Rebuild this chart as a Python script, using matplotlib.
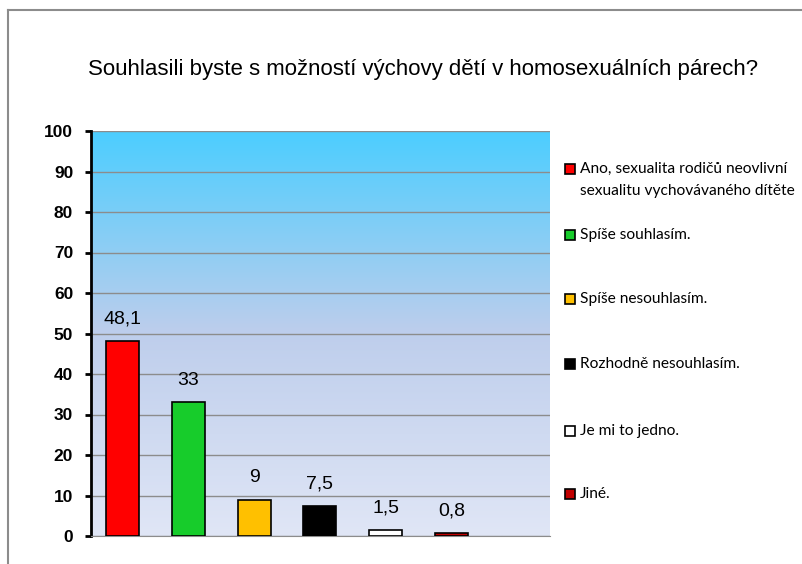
import matplotlib.pyplot as plt
import numpy as np
from matplotlib.patches import Rectangle
from matplotlib.lines import Line2D

labels = [
    "Ano, sexualita rodičů neovlivní\nsexualitu vychovávaného dítěte",
    "Spíše souhlasím.",
    "Spíše nesouhlasím.",
    "Rozhodně nesouhlasím.",
    "Je mi to jedno.",
    "Jiné.",
]
values = [48.1, 33, 9, 7.5, 1.5, 0.8]
value_text = ["48,1", "33", "9", "7,5", "1,5", "0,8"]
colors = ["#ff0000", "#17cc2b", "#ffc000", "#000000", "#ffffff", "#c00000"]
yticks = [0, 10, 20, 30, 40, 50, 60, 70, 80, 90, 100]

W, H = 803, 564
fig = plt.figure(figsize=(W / 100, H / 100), dpi=100)

# outer frame (top + left visible)
fig.add_artist(Line2D([8 / W, 8 / W], [0, 1 - 10 / H], color="#8c8c8c", lw=1.5))
fig.add_artist(Line2D([8 / W, 1], [1 - 10 / H, 1 - 10 / H], color="#8c8c8c", lw=1.5))

ax = fig.add_axes([91 / W, 1 - 536 / H, (550 - 91) / W, (536 - 131) / H])

# gradient background
grad = np.linspace(0, 1, 256)
top = np.array([76, 205, 255]) / 255
mid = np.array([190, 206, 236]) / 255
bot = np.array([224, 230, 246]) / 255
cols = np.zeros((256, 1, 3))
for i, g in enumerate(grad):
    if g < 0.5:
        cols[i, 0] = top + (mid - top) * (g / 0.5)
    else:
        cols[i, 0] = mid + (bot - mid) * ((g - 0.5) / 0.5)
ax.imshow(cols, extent=[0, 1, 0, 1], transform=ax.transAxes, aspect="auto", zorder=0)

x = np.arange(len(values))
ax.bar(x, values, width=0.5, color=colors, edgecolor="black", linewidth=1.2, zorder=3)
for xi, v, t in zip(x, values, value_text):
    ax.text(xi, v + 5.4, t, ha="center", va="center", fontsize=14,
            family="Liberation Sans", zorder=4)

ax.set_xlim(-0.48, 6.5)
ax.set_ylim(0, 100)
ax.set_yticks(yticks)
ax.set_yticklabels([str(v) for v in yticks], fontweight="bold", fontsize=12.5,
                   family="Liberation Sans")
ax.set_xticks([])
ax.grid(axis="y", color="#8c8c8c", lw=1, zorder=1)
ax.set_axisbelow(True)
for s in ["top", "right"]:
    ax.spines[s].set_visible(False)
ax.spines["bottom"].set_color("#8c8c8c")
ax.spines["left"].set_linewidth(2)
ax.tick_params(axis="y", length=4.3, width=2, direction="out", pad=8.5)

fig.text(423 / W, 1 - 75 / H,
         "Souhlasili byste s možností výchovy dětí v homosexuálních párech?",
         ha="center", va="baseline", fontsize=16, family="Liberation Sans")

# legend
leg_y = [169, 235, 299, 364, 431, 494]
for lab, c, yy in zip(labels, colors, leg_y):
    fig.add_artist(Rectangle((565 / W, 1 - (yy + 5) / H), 10 / W, 10 / H,
                             facecolor=c, edgecolor="black", lw=1.2))
    ty = yy + 11 if "\n" in lab else yy
    fig.text(580 / W, 1 - ty / H, lab, ha="left", va="center",
             fontsize=11.2, family="Lato", linespacing=1.8)

fig.savefig("out.png", dpi=100)
